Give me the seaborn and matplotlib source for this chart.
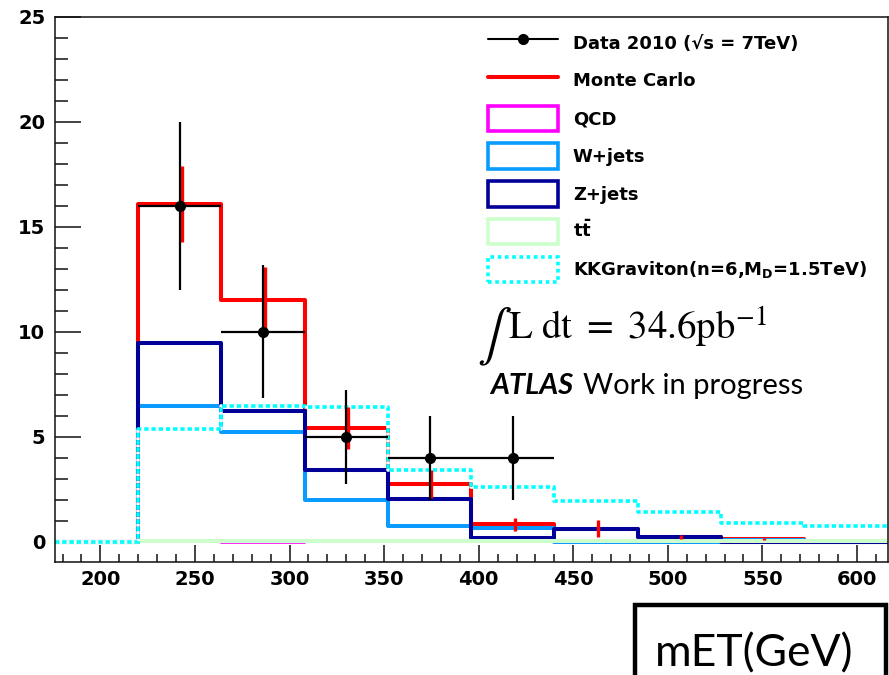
import numpy as np
import pandas as pd
import matplotlib
matplotlib.use("Agg")
import matplotlib.pyplot as plt
import seaborn as sns
from matplotlib.lines import Line2D
from matplotlib.patches import Patch, Rectangle

# missing-ET bins (GeV)
edges = [176, 220, 264, 308, 352, 396, 440, 484, 528, 572, 616]

# data points (bins 1..5)
data_bins = [1, 2, 3, 4, 5]
data_counts = [16, 10, 5, 4, 4]
data_err = [4.0, 3.16, 2.24, 2.0, 2.0]

# histograms, one value per bin
mc = [0, 16.08, 11.5, 5.42, 2.75, 0.83, 0.62, 0.24, 0.13, 0]
mc_err = [0, 1.8, 1.6, 1.0, 0.65, 0.3, 0.42, 0.1, 0.05, 0]
qcd = [0, 0, -0.07, 0, 0, 0, 0, 0, 0, 0]
wjets = [0, 6.48, 5.24, 2.0, 0.76, 0.66, 0, 0, 0.1, 0]
zjets = [0, 9.45, 6.24, 3.42, 2.05, 0.19, 0.6, 0.2, 0, 0]
ttbar = [0, 0.05, 0.05, 0.05, 0.05, 0.05, 0.05, 0.05, 0.05, 0.05]
kkgrav = [0, 5.35, 6.45, 6.4, 3.4, 2.6, 1.95, 1.42, 0.88, 0.76]

labels = ["Data 2010 (\u221as = 7TeV)", "Monte Carlo", "QCD", "W+jets", "Z+jets",
          r"t$\bar{\mathrm{t}}$", r"KKGraviton(n=6,M$_{\mathrm{D}}$=1.5TeV)"]

sns.set_theme(style="white")
plt.rcParams["font.family"] = ["DejaVu Sans"]
plt.rcParams["mathtext.fontset"] = "custom"
plt.rcParams["mathtext.rm"] = "DejaVu Sans:bold"
plt.rcParams["mathtext.it"] = "DejaVu Sans:bold:italic"
plt.rcParams["mathtext.bf"] = "DejaVu Sans:bold"

W, H = 889, 675
fig = plt.figure(figsize=(W / 100, H / 100), dpi=100)
ax = fig.add_axes([55 / W, 113 / H, 833 / W, 545 / H])

edges_a = np.array(edges, dtype=float)
centers = (edges_a[:-1] + edges_a[1:]) / 2
lw = 2.9


def step_hist(values, color, **kw):
    df = pd.DataFrame({"met": centers, "w": values})
    sns.histplot(data=df, x="met", weights="w", bins=list(edges), element="step",
                 fill=False, color=color, ax=ax, **kw)


step_hist(mc, "#ff0000", linewidth=lw)
step_hist(qcd, "#ff00ff", linewidth=1.2)
step_hist(wjets, "#0a9bff", linewidth=lw)
step_hist(zjets, "#000099", linewidth=lw)
step_hist(ttbar, "#ccffcc", linewidth=lw)
step_hist(kkgrav, "#00ffff", linewidth=2.6, linestyle=(0, (1.2, 0.8)), gapcolor="white")

# MC stat errors
mc_a = np.array(mc)
keep = np.array(mc_err) > 0
ax.errorbar(centers[keep] + 1, mc_a[keep], yerr=np.array(mc_err)[keep], fmt="none",
            ecolor="#ff0000", elinewidth=2.4, capsize=0, zorder=4)

# data
ax.errorbar(centers[data_bins], data_counts, yerr=data_err, xerr=22, fmt="o",
            color="black", markersize=7, elinewidth=1.6, capsize=0, zorder=6)

ax.set_xlim(176, 616.4)
ax.set_ylim(-0.97, 25)
ax.set_xlabel("")
ax.set_ylabel("")
ax.set_xticks([200, 250, 300, 350, 400, 450, 500, 550, 600])
ax.set_yticks([0, 5, 10, 15, 20, 25])
ax.set_xticks(np.arange(180, 620, 10), minor=True)
ax.set_yticks(np.arange(0, 25, 1), minor=True)
ax.tick_params(axis="both", which="both", direction="in", color="#111111", width=1.1,
               labelsize=14, labelcolor="black", bottom=True, left=True,
               top=False, right=False)
ax.tick_params(axis="y", which="major", length=18.5, pad=7)
ax.tick_params(axis="y", which="minor", length=9.3)
ax.tick_params(axis="x", which="major", length=12, pad=6)
ax.tick_params(axis="x", which="minor", length=5.8)
for lab in ax.get_xticklabels() + ax.get_yticklabels():
    lab.set_fontweight("bold")
for sp in ax.spines.values():
    sp.set_color("#111111")
    sp.set_linewidth(1.1)

handles = [
    Line2D([], [], color="black", marker="o", markersize=7, lw=1.5),
    Line2D([], [], color="#ff0000", lw=lw),
    Patch(facecolor="white", edgecolor="#ff00ff", lw=2.6),
    Patch(facecolor="white", edgecolor="#0a9bff", lw=2.6),
    Patch(facecolor="white", edgecolor="#000099", lw=2.6),
    Patch(facecolor="white", edgecolor="#ccffcc", lw=2.6),
    Patch(facecolor="white", edgecolor="#00ffff", lw=2.6, linestyle=(0, (1, 1))),
]
leg = fig.legend(handles, labels, loc="upper left", bbox_to_anchor=(488 / W, 1 - 30 / H),
                 frameon=False, borderpad=0, borderaxespad=0, handlelength=3.9,
                 handleheight=1.81, labelspacing=0.67, handletextpad=0.8,
                 prop={"size": 13, "weight": "bold"})
for t in leg.get_texts():
    t.set_color("black")

# luminosity and label
fig.text(477 / W, 1 - 349 / H, r"$\int$", fontsize=37, va="baseline", ha="left",
         math_fontfamily="stix", color="black")
fig.text(508 / W, 1 - 340 / H, r"$\mathrm{L\ dt}\ =\ \mathrm{34.6pb}^{-1}$",
         fontsize=28, va="baseline", ha="left", math_fontfamily="stix", color="black")
fig.text(490 / W, 1 - 394 / H, "ATLAS", fontsize=21, fontweight="bold", fontstyle="italic",
         family=["Lato", "DejaVu Sans"], va="baseline", ha="left", color="black")
fig.text(583 / W, 1 - 394 / H, "Work in progress", fontsize=21,
         family=["Lato", "DejaVu Sans"], va="baseline", ha="left", color="black")

# axis title box
fig.add_artist(Rectangle((635 / W, -0.05), 251 / W, 1 - 605 / H + 0.05, transform=fig.transFigure,
                         facecolor="white", edgecolor="black", lw=3.2, clip_on=False))
fig.text(655 / W, 1 - 666 / H, "mET(GeV)", fontsize=32, family=["Lato", "DejaVu Sans"],
         va="baseline", ha="left", color="black")

fig.savefig("out.png", dpi=100, facecolor="white")
